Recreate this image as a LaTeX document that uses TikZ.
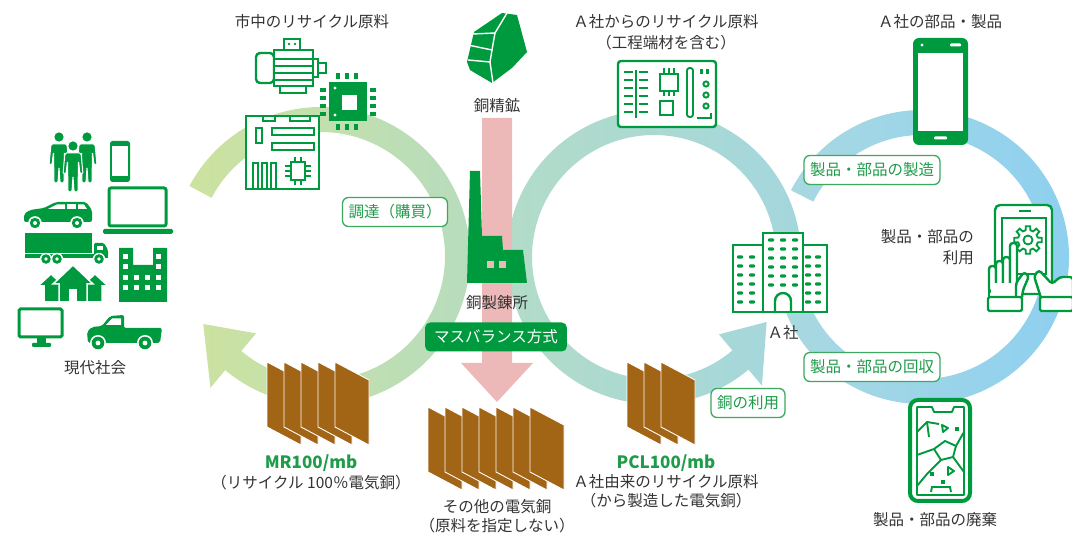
\documentclass[tikz,border=0pt]{standalone}
\usepackage{fontspec}
\setmainfont{Noto Sans CJK JP}
\usepackage{tikz}
\usetikzlibrary{positioning}

\definecolor{leaf}{HTML}{009A3E}
\definecolor{tagline}{HTML}{3BAA5E}
\definecolor{tagtext}{HTML}{1E9C4A}
\definecolor{ink}{HTML}{333333}
\definecolor{copper}{HTML}{A26415}
\definecolor{orepink}{HTML}{EDB8B8}
\definecolor{limeband}{HTML}{CCE29F}
\definecolor{sageband}{HTML}{B6DCBF}
\definecolor{mintband}{HTML}{B3DCC7}
\definecolor{aquaband}{HTML}{A3D6DE}
\definecolor{tealband}{HTML}{A9D9E1}
\definecolor{skyband}{HTML}{8CCFF1}

\tikzstyle{gline} = [draw=leaf, line width=2.4pt, fill=white]
\tikzstyle{detail} = [draw=leaf, line width=1.9pt]
\tikzstyle{crack} = [draw=white, line width=1.4pt]
\tikzstyle{plate} = [fill=copper, draw=white, line width=0.9pt, line join=round]
\tikzstyle{caption} = [text=ink, inner sep=0pt, align=center]
\tikzstyle{tag} = [draw=tagline, fill=white, text=tagtext, line width=1.3pt, rounded corners=6pt, minimum height=29pt, inner xsep=6pt, inner ysep=0pt]
\tikzstyle{masstag} = [fill=leaf, text=white, rounded corners=5pt, minimum height=29pt, inner xsep=9pt, inner ysep=0pt]
\tikzstyle{grade} = [text=tagtext, inner sep=0pt, font=\bfseries\fontsize{17}{20}\selectfont]

% stack of copper cathode sheets: left x, top y, number of sheets
\newcommand{\copperstack}[3]{%
  \foreach \k in {1,...,#3}{
    \pgfmathsetmacro{\plx}{#1+17*(\k-1)}
    \filldraw[plate] (\plx,#2) -- ++(34,18) -- ++(0,65) -- ++(-34,-18) -- cycle;
  }}
% a standing figure, head at (#1,#2)
\newcommand{\person}[2]{%
  \fill[leaf] (#1,#2) circle (4.6);
  \filldraw[leaf, draw=white, line width=1pt, rounded corners=1.5pt] (#1-8,#2+7) -- (#1+8,#2+7) -- (#1+10,#2+28) -- (#1+7,#2+28) -- (#1+5.5,#2+15) -- (#1+5,#2+46) -- (#1+1,#2+46) -- (#1,#2+30) -- (#1-1,#2+46) -- (#1-5,#2+46) -- (#1-5.5,#2+15) -- (#1-7,#2+28) -- (#1-10,#2+28) -- cycle;}

\begin{document}
\begin{tikzpicture}[x=1pt, y=-1pt, font=\fontsize{15.5}{20}\selectfont]
\useasboundingbox (0,0) rectangle (1072,534);

\coordinate (lc) at (321,256);
\coordinate (mc) at (654,257);
\coordinate (rc) at (922,257);

% the three loops
\shade[left color=limeband, right color=sageband]
  (lc) ++(208:149) arc[start angle=208, end angle=490, radius=149]
  -- ([shift={(490:172)}]lc) -- ([shift={(510:136)}]lc)
  -- ([shift={(490:101)}]lc) -- ([shift={(490:124)}]lc)
  arc[start angle=490, end angle=208, radius=124] -- cycle;
\shade[left color=mintband, right color=aquaband]
  (mc) ++(10:147) arc[start angle=10, end angle=-310, radius=147]
  -- ([shift={(-310:168)}]mc) -- ([shift={(-330:130)}]mc)
  -- ([shift={(-310:101)}]mc) -- ([shift={(-310:122)}]mc)
  arc[start angle=-310, end angle=10, radius=122] -- cycle;
\shade[left color=tealband, right color=skyband]
  (rc) ++(207:147) arc[start angle=207, end angle=520, radius=147]
  -- ([shift={(520:122)}]rc) arc[start angle=520, end angle=207, radius=122] -- cycle;

% concentrate arrow
\fill[orepink] (482,118) -- (512,118) -- (512,363) -- (533,363) -- (497,402) -- (461,363) -- (482,363) -- cycle;

% smelter
\fill[leaf] (470,171) -- (480,171) -- (482,236) -- (502,236) -- (503,250) -- (523,250) -- (527,283) -- (467,283) -- cycle;
\fill[orepink] (487,261) rectangle (494,268);
\fill[orepink] (499,261) rectangle (506,268);

% ore lump
\fill[leaf] (467,62) -- (474,32) -- (502,13) -- (517,15) -- (527,52) -- (512,68) -- (492,83) -- (470,70) -- cycle;
\draw[crack] (473,34) -- (495,33) -- (507,13);
\draw[crack] (495,33) -- (492,50) -- (468,45);
\draw[crack] (492,50) -- (490,62) -- (468,60);
\draw[crack] (490,62) -- (493,83);

% cathodes
\copperstack{267}{362}{5}
\copperstack{428}{407}{7}
\copperstack{627}{362}{3}

% motor
\draw[gline, rounded corners=4pt] (256,53) rectangle (274,83);
\draw[gline] (274,50) rectangle (313,86);
\foreach \y in {59,66,73,80} \draw[detail] (274,\y) -- (313,\y);
\draw[gline] (284,39) rectangle (300,50);
\fill[leaf] (289,44) circle (1.3);
\fill[leaf] (295,44) circle (1.3);
\draw[gline] (313,59) rectangle (318,77);
\draw[gline] (318,63) rectangle (326,73);
\draw[gline] (280,86) rectangle (306,93);

% chip
\fill[leaf] (329,82) rectangle (367,121);
\fill[white] (342,95) rectangle (357,110);
\fill[white] (335,88) circle (1.6);
\fill[white] (335,115) circle (1.6);
\foreach \x in {338,347,356}{
  \fill[leaf] (\x-1.6,73) rectangle (\x+1.6,79);
  \fill[leaf] (\x-1.6,124) rectangle (\x+1.6,130);}
\foreach \y in {90,98,106,114}{
  \fill[leaf] (320,\y-1.6) rectangle (326,\y+1.6);
  \fill[leaf] (370,\y-1.6) rectangle (376,\y+1.6);}

% mainboard
\draw[gline] (246,116) rectangle (319,189);
\draw[detail] (263,116) rectangle (275,121);
\draw[detail] (290,116) rectangle (310,121);
\draw[detail] (256,128) rectangle (262,143);
\draw[detail] (272,128) rectangle (314,135);
\draw[detail] (272,143) rectangle (314,150);
\foreach \x in {253,262,271} \draw[detail] (\x,163) rectangle (\x+5,189);
\draw[detail] (291,162) rectangle (305,180);
\foreach \y in {166,171,176}{
  \draw[detail] (285,\y) -- (291,\y);
  \draw[detail] (305,\y) -- (311,\y);}
\foreach \x in {295,301}{
  \draw[detail] (\x,157) -- (\x,162);
  \draw[detail] (\x,180) -- (\x,185);}

% scrap board
\draw[gline, rounded corners=3pt] (618,61) rectangle (716,127);
\draw[detail] (636,70) -- (636,118);
\foreach \y in {72,80,...,112}{
  \draw[detail] (624,\y) -- (633,\y);
  \draw[detail] (639,\y) -- (648,\y);}
\draw[detail] (660,74) rectangle (678,91);
\foreach \x in {664,669,674}{
  \draw[detail] (\x,68) -- (\x,74);
  \draw[detail] (\x,91) -- (\x,96);}
\draw[detail] (660,101) rectangle (673,115);
\draw[detail, rounded corners=2.5pt] (687,68) rectangle (693,117);
\foreach \y in {84,95,106} \draw[detail] (706,\y) circle (2.6);
\foreach \x in {701,707} \fill[leaf] (\x-1.5,69) rectangle (\x+1.5,74);
\draw[detail] (697,118) -- (711,118) -- (711,113);

% company building
\draw[gline] (733,245) rectangle (763,312);
\draw[gline] (803,245) rectangle (827,312);
\draw[gline] (763,233) rectangle (803,312);
\foreach \y in {257,266,275,284,293,302}{
  \foreach \x in {740,752,808,818} \fill[leaf, rounded corners=1pt] (\x-3,\y-1.6) rectangle (\x+3,\y+1.6);}
\foreach \y in {240,249,258,267,276,285}{
  \foreach \x in {771,783,795} \fill[leaf, rounded corners=1pt] (\x-3,\y-1.6) rectangle (\x+3,\y+1.6);}
\draw[leaf, line width=2.4pt] (775,312) -- (775,301) arc[start angle=180, end angle=360, radius=8] -- (791,312);

% product phone
\fill[leaf, rounded corners=6pt] (913,38) rectangle (968,145);
\fill[white] (918,53) rectangle (963,131);
\fill[white] (922,45) circle (1.7);
\fill[white, rounded corners=1pt] (950,43.5) rectangle (961,46.5);
\fill[white, rounded corners=1pt] (934,136.5) rectangle (947,139.5);

% tablet in use
\draw[gline, rounded corners=5pt] (995,205) rectangle (1052,294);
\draw[detail] (1002,218) rectangle (1046,274);
\draw[detail] (1019,211) -- (1031,211);
\draw[leaf, line width=1.8pt, fill=white] (1028,240) ++(-14:10)
  \foreach \a in {0,45,...,315}{ -- ([shift={(\a-9:14)}]1028,240) -- ([shift={(\a+9:14)}]1028,240)
  -- ([shift={(\a+14:10)}]1028,240) -- ([shift={(\a+31:10)}]1028,240)} -- cycle;
\draw[leaf, line width=1.8pt] (1028,240) circle (4.5);
\foreach \x/\t in {989/266, 996/261, 1003/257} \draw[gline, rounded corners=3pt] (\x,\t) rectangle (\x+7,292);
\draw[gline, rounded corners=3pt] (1010,243) rectangle (1017,292);
\fill[white] (991,283) rectangle (1019,297);
\draw[leaf, line width=2.4pt] (989,283) -- (989,297);
\draw[gline, rounded corners=3pt] (1016,297) -- (1016,283) -- (1024,272) -- (1029,276) -- (1023,290) -- (1022,297);
\draw[gline, rounded corners=1.5pt] (988,297) rectangle (1022,311);
\draw[gline, rounded corners=3pt] (1041,298) -- (1034,276) -- (1039,270) -- (1052,284) -- (1060,277) -- (1073,277) -- (1073,298);
\draw[gline, rounded corners=1.5pt] (1040,297) rectangle (1073,311);

% broken phone
\draw[leaf, line width=4pt, fill=white, rounded corners=8pt] (910,400) rectangle (970,501);
\draw[detail, line join=round] (917,407) -- (932,407) -- (934,412) -- (952,412) -- (954,407) -- (964,407) -- (964,495) -- (917,495) -- cycle;
\draw[detail, line join=round] (917,432) -- (927,422) -- (939,424);
\draw[detail] (927,422) -- (929,437);
\draw[detail, line join=round] (917,455) -- (934,449) -- (945,441) -- (956,446) -- (964,432);
\draw[detail, line join=round] (934,449) -- (941,460) -- (953,457) -- (956,446);
\draw[detail, line join=round] (941,460) -- (927,474) -- (917,486);
\draw[detail] (953,457) -- (964,472);
\draw[detail, line join=round] (942,425) -- (948,428) -- (943,432) -- cycle;
\draw[detail, line join=round] (948,467) -- (954,471) -- (948,475) -- cycle;
\fill[leaf] (955,427) rectangle (959,431);
\fill[leaf] (930,472) rectangle (934,476);
\fill[leaf] (941,480) rectangle (945,484);
\draw[detail] (931,492) -- (932,487) -- (950,487) -- (951,492);

% society
\person{59}{137}
\person{87}{137}
\person{73}{146}
\fill[leaf, rounded corners=2.5pt] (110,141) rectangle (130,182);
\fill[white] (112,146) rectangle (128,176);
\fill[leaf, rounded corners=2pt] (24,222) -- (24,214) -- (30,210) -- (44,208) -- (56,202) -- (86,202) -- (92,210) -- (92,222) -- cycle;
\fill[white] (48,209) -- (57,204.5) -- (65,204.5) -- (65,209) -- cycle;
\fill[white] (67,204.5) rectangle (76,209);
\fill[white] (78,204.5) -- (84,204.5) -- (87,209) -- (78,209) -- cycle;
\foreach \x in {35,77}{
  \fill[white] (\x,223) circle (6.8);
  \fill[leaf] (\x,223) circle (5.2);
  \fill[white] (\x,223) circle (2);}
\draw[leaf, line width=3pt, rounded corners=2pt] (109,188) rectangle (166,226);
\fill[leaf, rounded corners=1.5pt] (103,229) rectangle (173,234);
\fill[leaf] (25,233) rectangle (92,253);
\fill[leaf, rounded corners=1.5pt] (94,243) -- (104,243) -- (108,250) -- (108,257) -- (94,257) -- cycle;
\fill[white] (97,246) rectangle (103,250);
\fill[leaf] (25,254) rectangle (108,258);
\foreach \x in {46,57,99}{
  \fill[white] (\x,259) circle (6.2);
  \fill[leaf] (\x,259) circle (4.8);
  \fill[white] (\x,259) circle (1.8);}
\filldraw[leaf, draw=white, line width=1.5pt] (51,274) -- (64,286) -- (60,286) -- (60,302) -- (44,302) -- (44,286) -- (38,286) -- cycle;
\filldraw[leaf, draw=white, line width=1.5pt] (95,274) -- (108,286) -- (102,286) -- (102,302) -- (86,302) -- (86,286) -- (82,286) -- cycle;
\filldraw[leaf, draw=white, line width=1.5pt] (73,265) -- (93,284) -- (87,284) -- (87,302) -- (59,302) -- (59,284) -- (53,284) -- cycle;
\fill[white] (69,289) rectangle (77,302);
\fill[leaf] (119,248) -- (133,248) -- (133,265) -- (153,265) -- (153,248) -- (167,248) -- (167,302) -- (119,302) -- cycle;
\foreach \y in {257,267,278,288} \foreach \x in {125,158} \fill[white] (\x-2.5,\y-2.5) rectangle (\x+2.5,\y+2.5);
\foreach \y in {278,288} \foreach \x in {136,147} \fill[white] (\x-2.5,\y-2.5) rectangle (\x+2.5,\y+2.5);
\draw[leaf, line width=3pt, rounded corners=1.5pt] (19,309) rectangle (62,337);
\fill[leaf] (37,338) rectangle (46,344);
\fill[leaf, rounded corners=1pt] (32,343) rectangle (51,347);
\fill[leaf, rounded corners=2pt] (88,343) -- (87,332) -- (92,327) -- (102,326) -- (110,316) -- (124,315) -- (124,328) -- (162,328) -- (160,343) -- cycle;
\fill[white] (106,325) -- (112,318.5) -- (121,318.5) -- (121,325) -- cycle;
\foreach \x in {98,145}{
  \fill[white] (\x,343) circle (8);
  \fill[leaf] (\x,343) circle (6.3);
  \fill[white] (\x,343) circle (2.4);}

% labels on the loops
\node[tag] (procure) at (395,212) {調達（購買）};
\node[tag] (make) at (872,170) {製品・部品の製造};
\node[tag] (collect) at (872,367) {製品・部品の回収};
\node[tag] (usecu) at (748,403) {銅の利用};
\node[masstag] (mass) at (496,337) {マスバランス方式};

% captions
\node[caption] (cityscrap) at (312,22) {市中のリサイクル原料};
\node[caption] (conc) at (497,106) {銅精鉱};
\node[caption] (smelter) at (497,303) {銅製錬所};
\node[caption, font=\fontsize{15.5}{21}\selectfont] (ascrap) at (666,32) {Ａ社からのリサイクル原料\\（工程端材を含む）};
\node[caption] (aparts) at (940,22) {Ａ社の部品・製品};
\node[caption, align=right, anchor=east, font=\fontsize{15.5}{21}\selectfont] (inuse) at (974,247) {製品・部品の\\利用};
\node[caption] (acorp) at (783,333) {Ａ社};
\node[caption] (waste) at (935,520) {製品・部品の廃棄};
\node[caption] (society) at (95,368) {現代社会};
\node[grade] (mr) at (311,463) {MR100/mb};
\node[caption] (mrnote) at (311,483) {（リサイクル 100％電気銅）};
\node[caption, font=\fontsize{15.5}{19}\selectfont] (other) at (497,516) {その他の電気銅\\（原料を指定しない）};
\node[grade] (pcl) at (666,463) {PCL100/mb};
\node[caption, font=\fontsize{15.5}{19}\selectfont] (pclnote) at (666,491) {Ａ社由来のリサイクル原料\\（から製造した電気銅）};
\end{tikzpicture}
\end{document}
